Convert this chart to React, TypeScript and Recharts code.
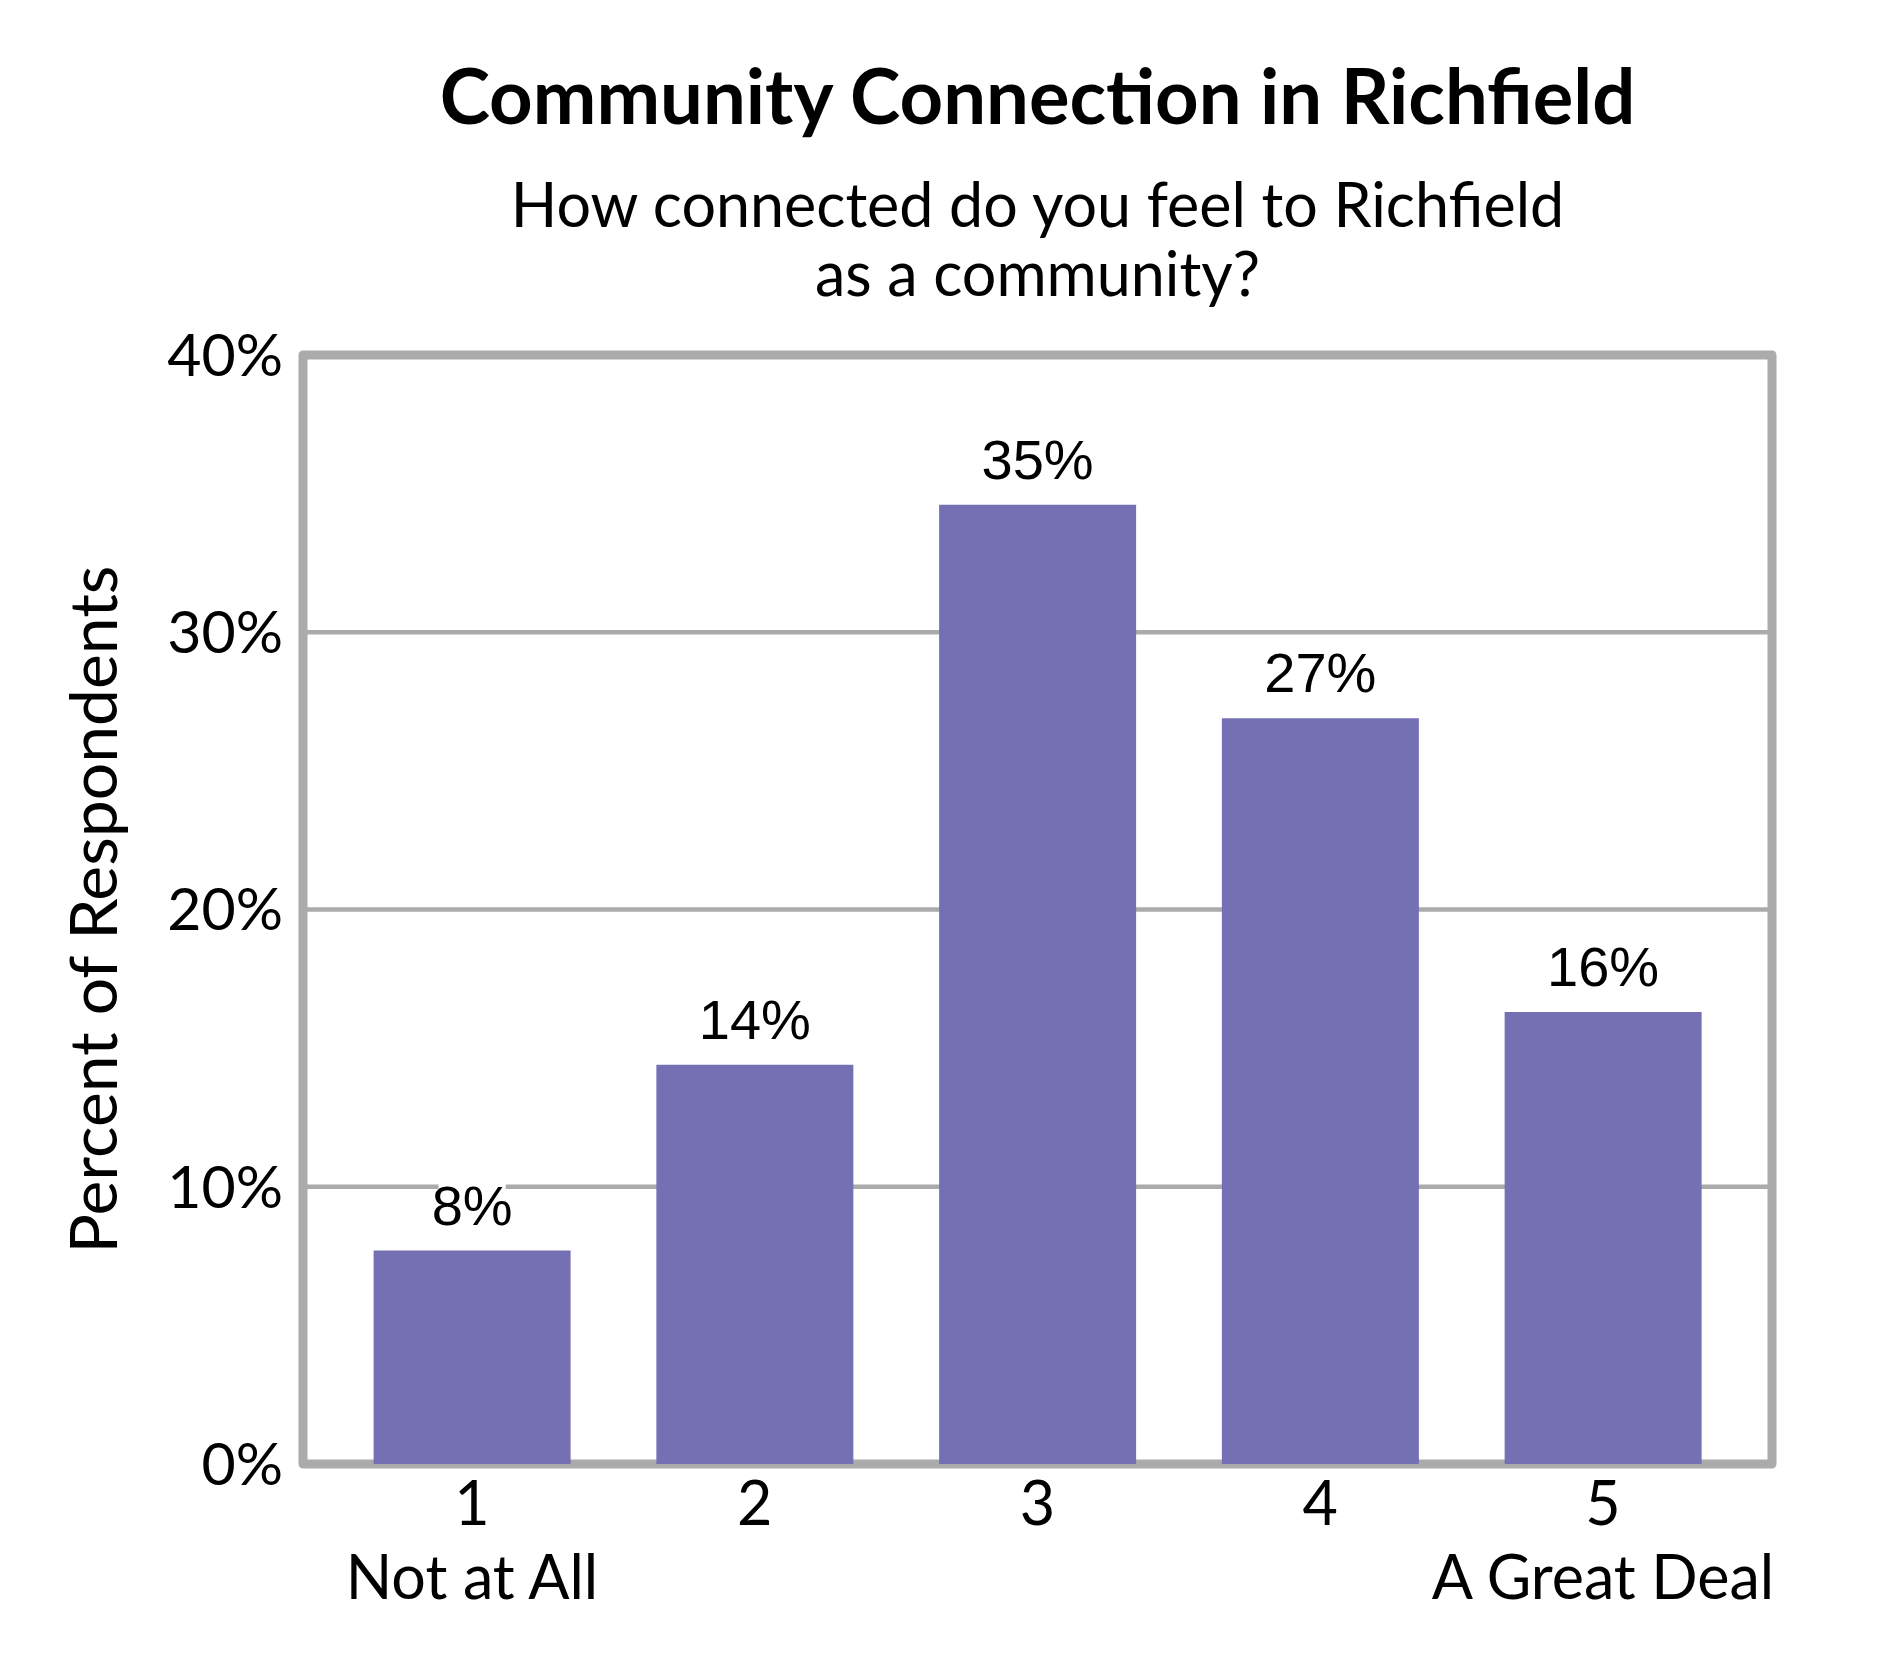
import React from "react";
import * as R from "recharts";
import { BarChart, Bar, XAxis, YAxis, CartesianGrid, LabelList } from "recharts";

const categories = ["1", "2", "3", "4", "5"];
const anchors = ["Not at All", "", "", "", "A Great Deal"];
const percents = [7.7, 14.4, 34.6, 26.9, 16.3];
const valueLabels = ["8%", "14%", "35%", "27%", "16%"];
const yTicks = [0, 10, 20, 30, 40];

const title = "Community Connection in Richfield";
const subtitle = ["How connected do you feel to Richfield", "as a community?"];
const yTitle = "Percent of Respondents";

const rows = categories.map((c, i) => ({ cat: c, anchor: anchors[i], pct: percents[i], label: valueLabels[i] }));

const GREY = "#ababab";
const BAR = "#7570b3";
const UI_FONT = "Lato, 'Open Sans', sans-serif";
const NUM_FONT = "'Liberation Sans', Arial, sans-serif";

// frame around the plot area, drawn under the bars
const PlotFrame = () => {
  const useArea = (R as any).usePlotArea || (R as any).useOffset;
  const a = useArea ? useArea() : null;
  if (!a) return null;
  return (
    <rect x={a.x ?? a.left} y={a.y ?? a.top} width={a.width} height={a.height}
      fill="none" stroke={GREY} strokeWidth={9} strokeLinejoin="round" />
  );
};

const XTick = ({ x, y, payload, index }: any) => (
  <text x={x} y={y} textAnchor="middle" fontFamily={UI_FONT} fontSize={61} fill="#000">
    <tspan x={x} dy={61}>{payload.value}</tspan>
    {anchors[index] ? <tspan x={x} dy={74}>{anchors[index]}</tspan> : null}
  </text>
);

const ValueLabel = ({ x, y, width, index }: any) => {
  const text = valueLabels[index];
  const cx = x + width / 2;
  const base = y - 26;
  const w = text.length * 0.6 * 56;
  return (
    <g>
      <rect x={cx - w / 2} y={base - 46} width={w} height={58} fill="#fff" />
      <text x={cx} y={base} textAnchor="middle" fontFamily={NUM_FONT} fontSize={56} fill="#000">{text}</text>
    </g>
  );
};

const YTitle = ({ viewBox }: any) => {
  const cy = 909.5;
  const x = viewBox.x + 14;
  return (
    <text x={x} y={cy} transform={`rotate(-90 ${x} ${cy})`} textAnchor="middle"
      fontFamily={UI_FONT} fontSize={66} fill="#000">{yTitle}</text>
  );
};

export default function App() {
  return (
    <div style={{ position: "absolute", left: 0, top: 0, width: 1890, height: 1680, background: "#fff" }}>
      <BarChart width={1890} height={1680} data={rows}
        margin={{ top: 355, right: 118, bottom: 66, left: 103 }}>
        <CartesianGrid vertical={false} stroke={GREY} strokeWidth={4.5} />
        <PlotFrame />
        <XAxis dataKey="cat" height={150} axisLine={false} tickLine={false} tickSize={0} tickMargin={0}
          padding={{ left: 27.6, right: 27.6 }} interval={0} tick={<XTick />} />
        <YAxis width={200} domain={[0, 40]} ticks={yTicks} axisLine={false} tickLine={false}
          tickSize={0} tickMargin={20} tickFormatter={(v: number) => `${v}%`}
          tick={{ fontFamily: UI_FONT, fontSize: 59, fill: "#000" }}
          label={<YTitle />} />
        <Bar dataKey="pct" fill={BAR} barSize={197} isAnimationActive={false}>
          <LabelList dataKey="label" content={<ValueLabel />} />
        </Bar>
      </BarChart>
      <svg width={1890} height={340} style={{ position: "absolute", left: 0, top: 0, pointerEvents: "none" }}>
        <text x={1037.5} y={124} textAnchor="middle" fontFamily={UI_FONT} fontWeight="bold" fontSize={76} fill="#000">{title}</text>
        {subtitle.map((s, i) => (
          <text key={i} x={1037.5} y={227 + i * 69} textAnchor="middle" fontFamily={UI_FONT} fontSize={61} fill="#000">{s}</text>
        ))}
      </svg>
    </div>
  );
}
